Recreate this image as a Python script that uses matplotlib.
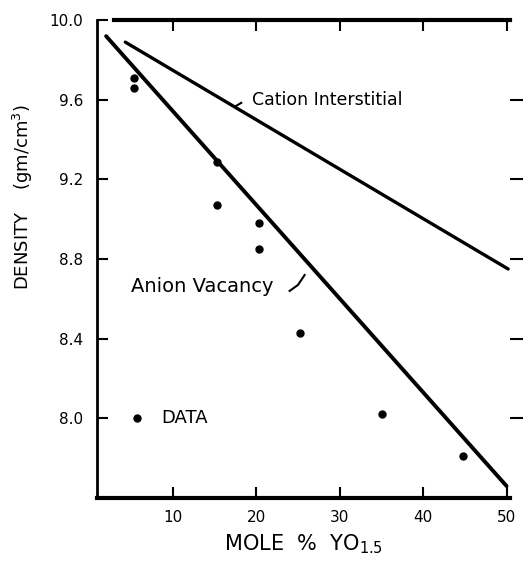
import matplotlib
matplotlib.use("Agg")
import matplotlib.pyplot as plt
import numpy as np

# Data
mole_pct = [5.4, 5.4, 15.3, 15.3, 20.3, 20.3, 25.3, 35.1, 44.8]
density = [9.71, 9.66, 9.29, 9.07, 8.98, 8.85, 8.43, 8.02, 7.81]

anion_x = [2.0, 50.0]
anion_y = [9.92, 7.66]
cation_x = [4.3, 50.2]
cation_y = [9.89, 8.75]

xticks = [10, 20, 30, 40, 50]
yticks = [10.0, 9.6, 9.2, 8.8, 8.4, 8.0]
ytick_labels = ["10.0", "9.6", "9.2", "8.8", "8.4", "8.0"]

plt.rcParams['font.family'] = ['DejaVu Sans']

fig = plt.figure(figsize=(5.24, 5.62), dpi=100)
ax = fig.add_axes([0.185, 0.114, 0.788, 0.850])

ax.plot(anion_x, anion_y, color='black', lw=2.8, solid_capstyle='round')
ax.plot(cation_x, cation_y, color='black', lw=2.4, solid_capstyle='round')
ax.plot(mole_pct, density, 'o', color='black', ms=5)

# legend-like label
ax.plot([5.7], [8.0], 'o', color='black', ms=5)
ax.text(8.6, 8.0, "DATA", fontsize=13, va='center', ha='left')

ax.text(19.5, 9.6, "Cation Interstitial", fontsize=12.5, va='center', ha='left')
ax.plot([17.6, 18.2], [9.57, 9.585], color='black', lw=1.5)
ax.text(5.0, 8.66, "Anion Vacancy", fontsize=14, va='center', ha='left')
ax.plot([24.0, 25.0, 25.8], [8.64, 8.67, 8.72], color='black', lw=1.5)

ax.set_xlim(0.9, 50.4)
ax.set_ylim(7.6, 10.0)
ax.set_xticks(xticks)
ax.set_xticklabels([str(t) for t in xticks], fontsize=11)
ax.set_yticks(yticks)
ax.set_yticklabels(ytick_labels, fontsize=11)

for s in ['top', 'bottom']:
    ax.spines[s].set_linewidth(3)
ax.spines['left'].set_linewidth(2)
ax.spines['right'].set_visible(False)
ax.spines['top'].set_bounds(3.0, 50.4)

ax.tick_params(axis='x', direction='in', length=8, width=1.5, top=True, bottom=True, pad=9)
ax.tick_params(axis='y', direction='in', length=8, width=1.5, left=True, right=False, pad=10)
# right-side outward ticks
ax2 = ax.twinx()
ax2.set_ylim(ax.get_ylim())
ax2.set_yticks(yticks[1:])
ax2.set_yticklabels([])
ax2.tick_params(axis='y', direction='out', length=9, width=1.5)
for s in ['top', 'bottom', 'left', 'right']:
    ax2.spines[s].set_visible(False)

ax.set_xlabel("MOLE  %  YO$_{1.5}$", fontsize=15, labelpad=5)
ax.set_ylabel("DENSITY    (gm/cm$^3$)", fontsize=13)
ax.yaxis.set_label_coords(-0.15, 0.63)

fig.savefig("out.png", dpi=100)
